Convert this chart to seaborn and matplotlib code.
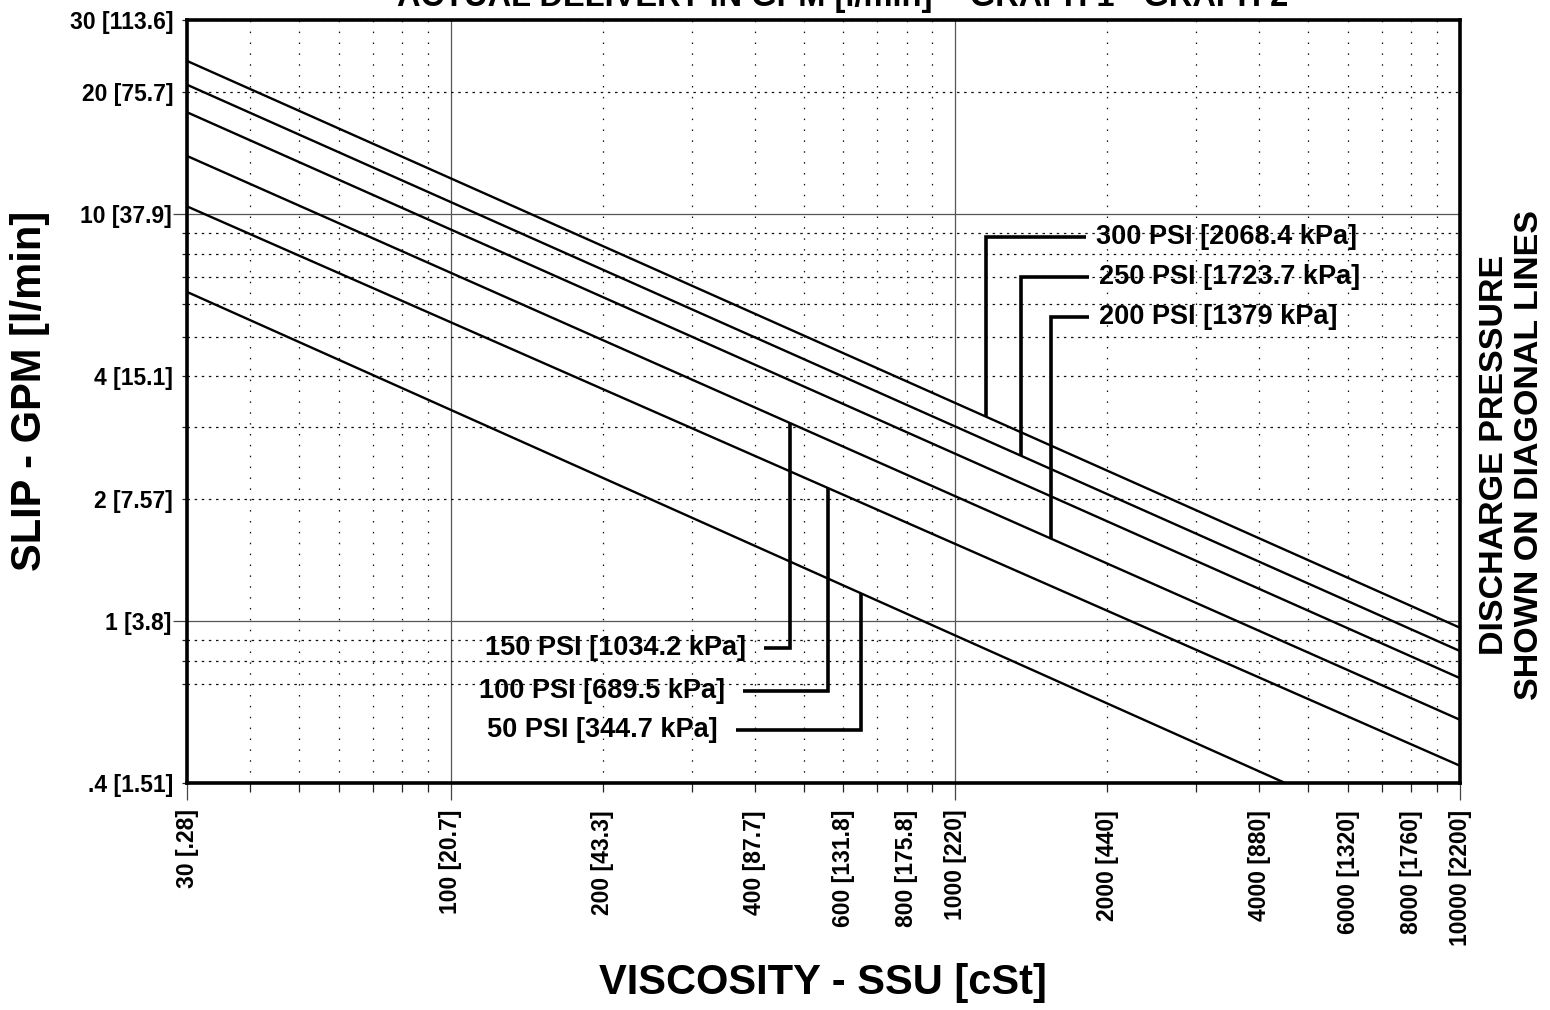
"""
Slip vs. viscosity chart (log-log), one diagonal line per discharge pressure
"""

import numpy as np
import pandas as pd
import matplotlib
matplotlib.use("Agg")
import matplotlib.pyplot as plt
import seaborn as sns
from matplotlib.ticker import FixedLocator, FuncFormatter

# Data (top line first)
pressures = ["300 PSI [2068.4 kPa]", "250 PSI [1723.7 kPa]", "200 PSI [1379 kPa]",
             "150 PSI [1034.2 kPa]", "100 PSI [689.5 kPa]", "50 PSI [344.7 kPa]"]
viscosity_ends = [30, 10000]                               # SSU
slip_at_30 = [23.8, 20.8, 17.8, 13.9, 10.45, 6.44]          # GPM at 30 SSU
slip_at_10000 = [0.963, 0.844, 0.724, 0.572, 0.441, 0.257]  # GPM at 10000 SSU

# Axis ticks and labels
x_major = [30, 100, 1000, 10000]
x_minor = [40, 50, 60, 70, 80, 90, 200, 300, 400, 500, 600, 700, 800, 900,
           2000, 3000, 4000, 5000, 6000, 7000, 8000, 9000]
x_labels = {30: "30 [.28]", 100: "100 [20.7]", 200: "200 [43.3]", 400: "400 [87.7]",
            600: "600 [131.8]", 800: "800 [175.8]", 1000: "1000 [220]", 2000: "2000 [440]",
            4000: "4000 [880]", 6000: "6000 [1320]", 8000: "8000 [1760]",
            10000: "10000 [2200]"}
y_major = [1, 10]
y_minor = [0.4, 0.7, 0.8, 0.9, 2, 3, 4, 5, 6, 7, 8, 9, 20, 30]
y_labels = {30: "30 [113.6]", 20: "20 [75.7]", 10: "10 [37.9]", 4: "4 [15.1]",
            2: "2 [7.57]", 1: "1 [3.8]", 0.4: ".4 [1.51]"}

# Leader lines for the pressure labels: which line they drop onto, where,
# the elbow level and where the horizontal leg ends.
# (the 200 PSI leader runs down to the 150 PSI line in the original drawing)
callout_touch = [0, 1, 3, 3, 4, 5]
callout_ssu = [1150, 1350, 1550, 470, 560, 650]
callout_level = [8.8, 7.0, 5.6, 0.86, 0.675, 0.54]
callout_end = [1815, 1840, 1840, 417, 380, 367]


def slip_on_line(i, ssu):
    """Slip of line i at a viscosity, straight line in log-log space"""
    k = np.log(slip_at_10000[i] / slip_at_30[i]) / np.log(viscosity_ends[1] / viscosity_ends[0])
    return slip_at_30[i] * (ssu / viscosity_ends[0]) ** k


sns.set_theme(style="white", rc={"text.color": "black", "axes.labelcolor": "black",
                                 "xtick.color": "black", "ytick.color": "black"})
plt.rcParams["font.family"] = ["Liberation Sans", "DejaVu Sans"]
plt.rcParams["font.weight"] = "bold"
plt.rcParams["axes.labelweight"] = "bold"

df = pd.DataFrame({
    "pressure": np.repeat(pressures, 2),
    "ssu": viscosity_ends * len(pressures),
    "gpm": [v for pair in zip(slip_at_30, slip_at_10000) for v in pair],
})

W, H = 1550, 1010
fig = plt.figure(figsize=(W / 100, H / 100), dpi=100)
ax = fig.add_axes([187 / W, 1 - 783 / H, (1460 - 187) / W, (783 - 20) / H])

sns.lineplot(data=df, x="ssu", y="gpm", hue="pressure", palette=["black"] * 6,
             legend=False, linewidth=1.7, estimator=None, sort=False, ax=ax)

ax.set_xscale("log")
ax.set_yscale("log")
ax.set_xlim(30, 10000)
ax.set_ylim(0.4, 30)
ax.set_xlabel("")
ax.set_ylabel("")

# ticks
fmt_x = FuncFormatter(lambda v, p: x_labels.get(int(round(v)), ""))
fmt_y = FuncFormatter(lambda v, p: y_labels.get(round(v, 2), ""))
ax.xaxis.set_major_locator(FixedLocator(x_major))
ax.xaxis.set_minor_locator(FixedLocator(x_minor))
ax.xaxis.set_major_formatter(fmt_x)
ax.xaxis.set_minor_formatter(fmt_x)
ax.yaxis.set_major_locator(FixedLocator(y_major))
ax.yaxis.set_minor_locator(FixedLocator(y_minor))
ax.yaxis.set_major_formatter(fmt_y)
ax.yaxis.set_minor_formatter(fmt_y)

ax.tick_params(axis="x", which="major", bottom=True, direction="out", length=12, width=0.9,
               pad=7, labelsize=16.5, labelrotation=90, color="#444", labelcolor="black")
ax.tick_params(axis="x", which="minor", bottom=True, direction="out", length=6.5, width=0.9,
               pad=13, labelsize=16.5, labelrotation=90, color="#222", labelcolor="black")
ax.tick_params(axis="y", which="major", left=True, direction="out", length=10, width=0.9,
               pad=1, labelsize=16.5, color="#444", labelcolor="black")
ax.tick_params(axis="y", which="minor", left=True, direction="out", length=3.5, width=0.9,
               pad=6.5, labelsize=16.5, color="#222", labelcolor="black")

# grid: solid at decades, dotted elsewhere
ax.grid(which="major", axis="both", color="#555", linewidth=0.9, linestyle="-")
ax.grid(which="minor", axis="x", color="#111", linewidth=0.9, linestyle=(0, (1.2, 7.5)))
ax.grid(which="minor", axis="y", color="#111", linewidth=0.9, linestyle=(0, (2.0, 3.7)))
ax.set_axisbelow(True)

for s in ax.spines.values():
    s.set_visible(True)
    s.set_color("black")
    s.set_linewidth(2.6)
    s.set_zorder(5)

# pressure labels with elbow leaders
for i, name in enumerate(pressures):
    xa = callout_ssu[i]
    ya = slip_on_line(callout_touch[i], xa)
    lvl = callout_level[i]
    xe = callout_end[i]
    ax.plot([xa, xa, xe], [ya, lvl, lvl], color="black", linewidth=2.6,
            solid_joinstyle="miter", solid_capstyle="butt")
    if xe > xa:
        ax.annotate(name, xy=(xe, lvl), xytext=(7, 0), textcoords="offset points",
                    ha="left", va="center", fontsize=19.5, fontweight="bold", color="black")
    else:
        ax.annotate(name, xy=(xe, lvl), xytext=(-13, 0), textcoords="offset points",
                    ha="right", va="center", fontsize=19.5, fontweight="bold", color="black")

# titles around the axes (the top title is cut by the page edge, as in the source)
fig.text(843 / W, 1 - 6 / H, "ACTUAL DELIVERY IN GPM [l/min] = GRAPH 1 - GRAPH 2",
         ha="center", va="baseline", fontsize=23.5, fontweight="bold", color="black")
fig.text(823 / W, 1 - 983 / H, "VISCOSITY - SSU [cSt]", ha="center", va="center",
         fontsize=30, fontweight="bold", color="black")
fig.text(30 / W, 1 - 391 / H, "SLIP - GPM [l/min]", rotation=90, ha="center", va="center",
         fontsize=30, fontweight="bold", color="black")
fig.text(1512 / W, 1 - 455 / H, "DISCHARGE PRESSURE\nSHOWN ON DIAGONAL LINES",
         rotation=90, ha="center", va="center", multialignment="center",
         linespacing=1.15, fontsize=24.5, fontweight="bold", color="black")

fig.savefig("out.png", dpi=100)
plt.close(fig)
